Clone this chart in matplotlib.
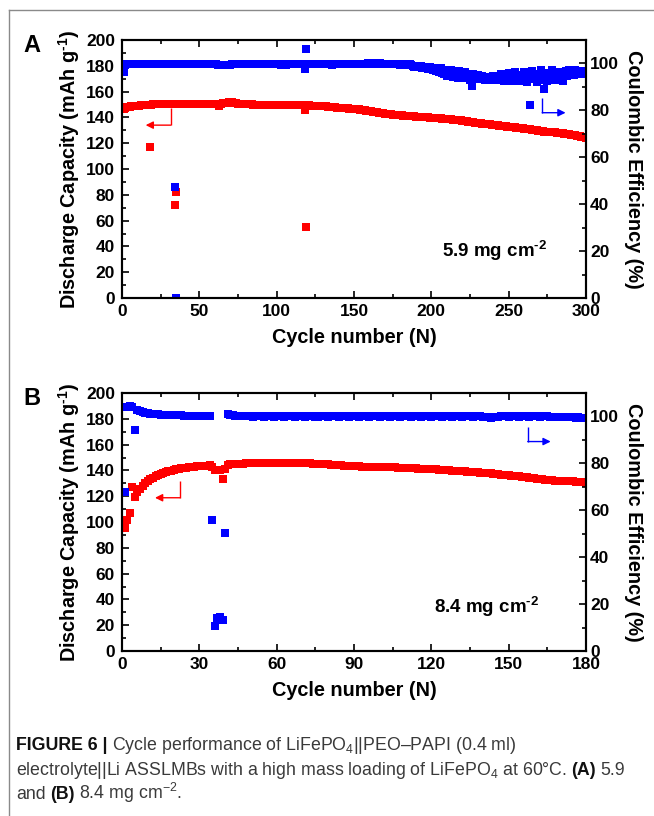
import numpy as np
import matplotlib
matplotlib.use('Agg')
import matplotlib.pyplot as plt
from matplotlib.lines import Line2D
from matplotlib.ticker import MultipleLocator

plt.rcParams['font.family'] = ['Liberation Sans', 'DejaVu Sans']
plt.rcParams['mathtext.fontset'] = 'custom'
plt.rcParams['mathtext.rm'] = 'Liberation Sans'
plt.rcParams['mathtext.it'] = 'Liberation Sans:italic'
plt.rcParams['mathtext.bf'] = 'Liberation Sans:bold'

# ---- panel A : 5.9 mg cm-2, 300 cycles ----
capA = [
    146.5, 147.2, 147.7, 148.0, 148.3, 148.5, 148.7, 148.8, 148.9, 149.0,
    149.2, 149.3, 149.4, 149.5, 149.6, 149.7, 149.8, 117.0, 150.0, 150.1,
    150.2, 150.3, 150.3, 150.4, 150.4, 150.5, 150.5, 150.6, 150.6, 150.7,
    150.7, 150.7, 150.7, 72.0, 82.0, 150.7, 150.7, 150.7, 150.7, 150.7,
    150.7, 150.7, 150.6, 150.6, 150.6, 150.6, 150.6, 150.6, 150.6, 150.6,
    150.6, 150.6, 150.5, 150.5, 150.5, 150.5, 150.5, 150.5, 150.5, 150.5,
    150.5, 150.4, 148.6, 150.6, 150.8, 151.0, 151.2, 151.4, 151.6, 151.7,
    151.6, 151.3, 151.0, 150.8, 150.6, 150.5, 150.4, 150.3, 150.3, 150.2,
    150.2, 150.1, 150.1, 150.1, 150.0, 150.0, 150.0, 150.0, 149.9, 149.9,
    149.9, 149.9, 149.8, 149.8, 149.8, 149.8, 149.8, 149.7, 149.7, 149.7,
    149.7, 149.7, 149.6, 149.6, 149.6, 149.6, 149.6, 149.5, 149.5, 149.5,
    149.5, 149.5, 149.4, 149.4, 149.4, 149.4, 149.4, 146.0, 55.0, 149.3,
    149.3, 149.2, 149.2, 149.1, 149.1, 149.0, 149.0, 148.9, 148.8, 148.7,
    148.6, 148.5, 148.4, 148.3, 148.2, 148.0, 147.9, 147.8, 147.6, 147.5,
    147.4, 147.3, 147.2, 147.1, 147.0, 146.9, 146.8, 146.7, 146.6, 146.5,
    146.4, 146.3, 146.2, 146.0, 145.9, 145.7, 145.5, 145.3, 145.1, 144.9,
    144.7, 144.5, 144.3, 144.1, 143.9, 143.7, 143.5, 143.3, 143.1, 142.9,
    142.7, 142.6, 142.5, 142.4, 142.2, 142.1, 141.9, 141.8, 141.7, 141.6,
    141.5, 141.4, 141.3, 141.2, 141.1, 141.0, 140.9, 140.8, 140.7, 140.6,
    140.5, 140.5, 140.4, 140.3, 140.3, 140.2, 140.1, 140.0, 139.9, 139.8,
    139.7, 139.6, 139.5, 139.4, 139.3, 139.2, 139.1, 139.0, 138.8, 138.7,
    138.6, 138.5, 138.4, 138.3, 138.2, 138.0, 137.9, 137.8, 137.6, 137.4,
    137.3, 137.1, 136.9, 136.8, 136.6, 136.4, 136.2, 136.0, 135.9, 135.7,
    135.5, 135.4, 135.2, 135.1, 134.9, 134.8, 134.7, 134.5, 134.4, 134.2,
    134.1, 134.0, 133.8, 133.7, 133.5, 133.4, 133.2, 133.1, 132.9, 132.8,
    132.7, 132.5, 132.4, 132.2, 132.1, 131.9, 131.8, 131.6, 131.5, 131.3,
    131.2, 131.1, 131.0, 130.8, 130.6, 130.4, 130.2, 130.0, 129.8, 129.6,
    129.4, 129.2, 129.0, 128.9, 128.8, 128.7, 128.6, 128.5, 128.4, 128.3,
    128.2, 128.1, 128.0, 127.9, 127.7, 127.5, 127.3, 127.1, 126.9, 126.7,
    126.5, 126.3, 126.1, 125.8, 125.6, 125.3, 125.1, 124.8, 124.6, 124.3,
]
ceA = [
    96.5, 99.5, 99.7, 99.8, 99.6, 99.7, 99.8, 99.7, 99.6, 99.7,
    99.8, 99.7, 99.6, 99.7, 99.8, 99.7, 99.6, 99.7, 99.8, 99.7,
    99.6, 99.7, 99.8, 99.7, 99.6, 99.7, 99.8, 99.7, 99.6, 99.7,
    99.8, 99.7, 99.6, 47.4, 0.0, 99.7, 99.8, 99.7, 99.6, 99.7,
    99.8, 99.7, 99.6, 99.7, 99.8, 99.7, 99.6, 99.7, 99.8, 99.7,
    99.6, 99.7, 99.8, 99.7, 99.6, 99.7, 99.8, 99.7, 99.6, 99.7,
    99.6, 99.5, 99.3, 99.5, 99.4, 99.3, 99.2, 99.3, 99.4, 99.5,
    99.6, 99.7, 99.6, 99.7, 99.8, 99.7, 99.6, 99.7, 99.8, 99.7,
    99.6, 99.7, 99.8, 99.7, 99.6, 99.7, 99.8, 99.7, 99.6, 99.7,
    99.8, 99.7, 99.6, 99.7, 99.8, 99.7, 99.6, 99.7, 99.8, 99.7,
    99.6, 99.7, 99.5, 99.6, 99.4, 99.5, 99.6, 99.7, 99.6, 99.7,
    99.8, 99.7, 99.6, 99.7, 99.8, 99.7, 99.6, 97.8, 106.0, 99.7,
    99.8, 99.7, 99.6, 99.7, 99.8, 99.7, 99.6, 99.7, 99.8, 99.7,
    99.6, 99.7, 99.8, 99.7, 99.6, 99.5, 99.6, 99.7, 99.8, 99.7,
    99.6, 99.7, 99.8, 99.7, 99.6, 99.7, 99.8, 99.7, 99.6, 99.7,
    99.8, 99.7, 99.6, 99.7, 99.8, 99.9, 99.8, 99.9, 100.0, 99.9,
    99.8, 99.9, 100.0, 99.9, 99.8, 99.9, 100.0, 99.9, 99.8, 99.9,
    99.8, 99.9, 99.8, 99.7, 99.8, 99.7, 99.6, 99.7, 99.6, 99.5,
    99.6, 99.5, 99.7, 99.3, 99.4, 99.6, 99.2, 99.0, 98.6, 99.1,
    98.7, 98.4, 98.9, 98.2, 97.9, 98.6, 98.1, 97.6, 98.3, 97.8,
    97.4, 98.1, 96.8, 97.6, 96.4, 97.9, 96.1, 95.6, 97.2, 94.8,
    96.6, 95.2, 97.4, 94.3, 96.0, 95.5, 93.6, 96.8, 94.9, 95.8,
    93.9, 96.2, 94.6, 95.1, 92.8, 90.4, 95.4, 94.1, 93.4, 95.0,
    94.0, 93.2, 94.6, 93.8, 92.9, 94.4, 93.5, 94.1, 93.0, 94.8,
    93.6, 92.8, 94.3, 93.3, 95.6, 93.9, 92.6, 94.5, 93.1, 95.9,
    94.2, 92.7, 93.8, 96.2, 93.3, 94.6, 92.4, 95.1, 93.7, 96.5,
    94.0, 92.2, 95.3, 82.3, 96.8, 93.5, 94.7, 91.9, 95.6, 93.1,
    97.1, 94.2, 89.0, 96.0, 92.6, 95.1, 93.8, 97.2, 94.4, 92.8,
    95.5, 93.4, 96.3, 94.1, 92.5, 95.8, 96.9, 94.6, 97.3, 95.2,
    96.4, 95.0, 97.0, 95.7, 96.2, 96.6, 95.4, 96.8, 96.0, 96.5,
]

# ---- panel B : 8.4 mg cm-2, 180 cycles ----
capB = [
    95.0, 101.5, 106.7, 127.0, 119.5, 123.0, 125.5, 128.0, 130.0, 131.5,
    133.0, 134.3, 135.4, 136.4, 137.3, 138.0, 138.7, 139.3, 139.8, 140.3,
    140.7, 141.1, 141.5, 141.8, 142.1, 142.4, 142.7, 142.9, 143.1, 143.3,
    143.5, 143.6, 143.7, 143.8, 142.8, 140.5, 140.0, 140.6, 133.0, 141.0,
    144.3, 144.8, 145.0, 145.1, 145.2, 145.3, 145.3, 145.4, 145.4, 145.4,
    145.5, 145.5, 145.5, 145.5, 145.6, 145.6, 145.6, 145.6, 145.6, 145.6,
    145.6, 145.6, 145.6, 145.6, 145.6, 145.5, 145.5, 145.5, 145.5, 145.5,
    145.4, 145.4, 145.4, 145.3, 145.3, 145.2, 145.1, 145.0, 144.8, 144.6,
    144.4, 144.2, 144.0, 143.9, 143.8, 143.7, 143.6, 143.5, 143.4, 143.3,
    143.2, 143.1, 143.0, 143.0, 142.9, 142.9, 142.8, 142.8, 142.7, 142.7,
    142.6, 142.6, 142.5, 142.4, 142.3, 142.3, 142.2, 142.1, 142.0, 141.9,
    141.8, 141.7, 141.6, 141.5, 141.4, 141.3, 141.2, 141.1, 141.0, 140.9,
    140.8, 140.7, 140.6, 140.4, 140.3, 140.2, 140.0, 139.9, 139.8, 139.6,
    139.5, 139.3, 139.2, 139.0, 138.9, 138.7, 138.6, 138.4, 138.3, 138.1,
    138.0, 137.8, 137.7, 137.3, 137.1, 136.9, 136.7, 136.5, 136.3, 136.1,
    135.9, 135.7, 135.5, 135.3, 135.1, 134.9, 134.6, 134.4, 134.2, 133.9,
    133.6, 133.3, 133.0, 132.7, 132.5, 132.3, 132.2, 132.1, 132.0, 131.9,
    131.8, 131.7, 131.6, 131.5, 131.4, 131.3, 131.2, 131.0, 130.8, 130.5,
]
ceB = [
    67.9, 104.0, 104.3, 104.0, 94.3, 102.9, 102.2, 101.8, 101.5, 101.3,
    101.2, 101.1, 101.0, 100.9, 100.8, 100.8, 100.7, 100.7, 100.6, 100.6,
    100.5, 100.5, 100.5, 100.4, 100.4, 100.4, 100.4, 100.3, 100.3, 100.3,
    100.3, 100.3, 100.3, 100.3, 55.9, 10.8, 14.2, 14.6, 13.3, 50.2,
    101.0, 100.7, 100.5, 100.4, 100.3, 100.2, 100.1, 100.1, 100.0, 100.0,
    99.9, 100.0, 100.1, 100.0, 99.9, 100.0, 100.1, 100.0, 99.9, 100.0,
    100.1, 100.0, 99.9, 100.0, 100.1, 100.0, 99.9, 100.0, 100.1, 100.0,
    99.9, 100.0, 100.1, 100.0, 99.9, 99.7, 100.0, 100.1, 100.0, 99.9,
    100.0, 100.1, 100.0, 99.9, 100.0, 100.1, 100.0, 99.9, 100.0, 100.1,
    100.0, 99.9, 100.0, 100.1, 100.0, 99.9, 100.0, 100.1, 100.0, 99.9,
    100.0, 100.1, 100.0, 99.9, 100.0, 100.1, 100.0, 99.9, 100.0, 100.1,
    100.0, 99.9, 100.0, 100.1, 100.0, 99.9, 100.0, 100.1, 100.0, 99.9,
    100.0, 100.1, 100.0, 99.9, 100.0, 100.1, 100.0, 99.9, 100.0, 100.1,
    100.0, 99.9, 100.0, 100.1, 100.0, 99.9, 100.0, 100.1, 100.0, 99.9,
    99.8, 99.6, 99.4, 99.6, 99.8, 99.9, 100.0, 100.1, 100.0, 99.9,
    100.0, 100.1, 100.0, 99.9, 100.0, 100.1, 100.0, 99.9, 100.0, 100.1,
    100.0, 99.9, 100.0, 100.1, 100.0, 99.9, 99.8, 99.9, 99.8, 99.7,
    99.8, 99.7, 99.6, 99.7, 99.6, 99.5, 99.6, 99.5, 99.4, 99.5,
]

RED = '#ff0000'
BLUE = '#0000ff'
TICK_FS = 12.5
LAB_FS = 14.3
MS = 5.2


def bent_arrow(ax, x0, y_top, y_bot, x_tip, color):
    ax.plot([x0, x0], [y_top, y_bot], color=color, lw=1.0, solid_capstyle='butt')
    ax.annotate('', xy=(x_tip, y_bot), xytext=(x0, y_bot),
                arrowprops=dict(arrowstyle='-|>', color=color, lw=1.0,
                                mutation_scale=11, shrinkA=0, shrinkB=0))


def panel(rect, cap, ce, xmax, xmaj, label, note, note_xy, red_arr, blue_arr):
    ax = fig.add_axes(rect)
    ax2 = ax.twinx()
    n_cap = np.arange(1, len(cap) + 1)
    n_ce = np.arange(1, len(ce) + 1)
    ax.plot(n_cap, cap, ls='none', marker='s', ms=MS, mew=0, color=RED)
    ax2.plot(n_ce, ce, ls='none', marker='s', ms=MS, mew=0, color=BLUE)

    ax.set_xlim(0, xmax)
    ax.set_ylim(0, 200)
    ax2.set_ylim(0, 110)
    ax.xaxis.set_major_locator(MultipleLocator(xmaj))
    ax.xaxis.set_minor_locator(MultipleLocator(xmaj / 2))
    ax.yaxis.set_major_locator(MultipleLocator(20))
    ax.yaxis.set_minor_locator(MultipleLocator(10))
    ax2.yaxis.set_major_locator(MultipleLocator(20))
    ax2.yaxis.set_minor_locator(MultipleLocator(10))
    ax2.set_yticks([0, 20, 40, 60, 80, 100])

    ax.tick_params(which='both', direction='in', top=True, right=False, width=1.2)
    ax.tick_params(which='major', length=5, labelsize=TICK_FS)
    ax.tick_params(which='minor', length=3)
    ax.tick_params(axis='y', pad=5)
    ax.tick_params(axis='x', pad=4)
    ax2.tick_params(which='both', direction='in', width=1.2)
    ax2.tick_params(which='major', length=5, labelsize=TICK_FS, pad=3)
    ax2.tick_params(which='minor', length=3)
    for a in (ax, ax2):
        for sp in a.spines.values():
            sp.set_linewidth(1.5)
        for t in a.get_xticklabels() + a.get_yticklabels():
            t.set_fontweight('bold')

    ax.set_ylabel('Discharge Capacity (mAh g$^{\\mathbf{\u20101}}$)', fontsize=LAB_FS,
                  fontweight='bold', labelpad=3)
    ax2.set_ylabel('Coulombic Efficiency (%)', fontsize=LAB_FS, fontweight='bold',
                   rotation=270, labelpad=17)
    ax.set_xlabel('Cycle number (N)', fontsize=LAB_FS, fontweight='bold', labelpad=7)

    ax.text(note_xy[0], note_xy[1], note, fontsize=13.5, fontweight='bold',
            ha='left', va='baseline')
    bent_arrow(ax, *red_arr, RED)
    bent_arrow(ax2, *blue_arr, BLUE)

    fig.text(rect[0] - 99 / 654, rect[1] + rect[3] - 12 / 816, label, fontsize=17,
             fontweight='bold', ha='left', va='baseline')
    return ax, ax2


fig = plt.figure(figsize=(6.54, 8.16), dpi=100)

panel([122 / 654, 518 / 816, 464 / 654, 258 / 816], capA, ceA, 300, 50, 'A',
      '5.9 mg cm$^{\\mathbf{\u20102}}$', (207, 31.5),
      (31.5, 147, 134, 15.3), (271.7, 85.2, 79, 286.8))
panel([122 / 654, 165 / 816, 464 / 654, 258 / 816], capB, ceB, 180, 30, 'B',
      '8.4 mg cm$^{\\mathbf{\u20102}}$', (121, 29.2),
      (22.5, 131.8, 118.8, 12.8), (157.4, 95.5, 89.3, 166.3))

# page frame (left and top rules)
fig.add_artist(Line2D([9 / 654, 9 / 654], [0, 1 - 10 / 816], transform=fig.transFigure,
                      color='#8a8a8a', lw=1))
fig.add_artist(Line2D([9 / 654, 1], [1 - 10 / 816, 1 - 10 / 816], transform=fig.transFigure,
                      color='#8a8a8a', lw=1))

# caption, written piece by piece so bold and regular runs sit on one line
CAP_FS = 12.8
renderer = fig.canvas.get_renderer()
space = CAP_FS / 72 * fig.dpi * 0.25


def caption_line(y_px, runs):
    x = 16
    for s, w, c in runs:
        t = fig.text(x / 654, 1 - y_px / 816, s, fontsize=CAP_FS, fontweight=w,
                     color=c, ha='left', va='baseline')
        x += t.get_window_extent(renderer).width + space


caption_line(750, [('FIGURE 6 |', 'bold', '#111111'),
                   (r'Cycle performance of LiFePO$_4$||PEO–PAPI (0.4 ml)', 'normal', '#3a3a3a')])
caption_line(775, [(r'electrolyte||Li ASSLMBs with a high mass loading of LiFePO$_4$ at 60°C.',
                    'normal', '#3a3a3a'),
                   ('(A)', 'bold', '#111111'), ('5.9', 'normal', '#3a3a3a')])
caption_line(799, [('and', 'normal', '#3a3a3a'), ('(B)', 'bold', '#111111'),
                   (r'8.4 mg cm$^{-2}$.', 'normal', '#3a3a3a')])

fig.savefig('out.png', dpi=100)
